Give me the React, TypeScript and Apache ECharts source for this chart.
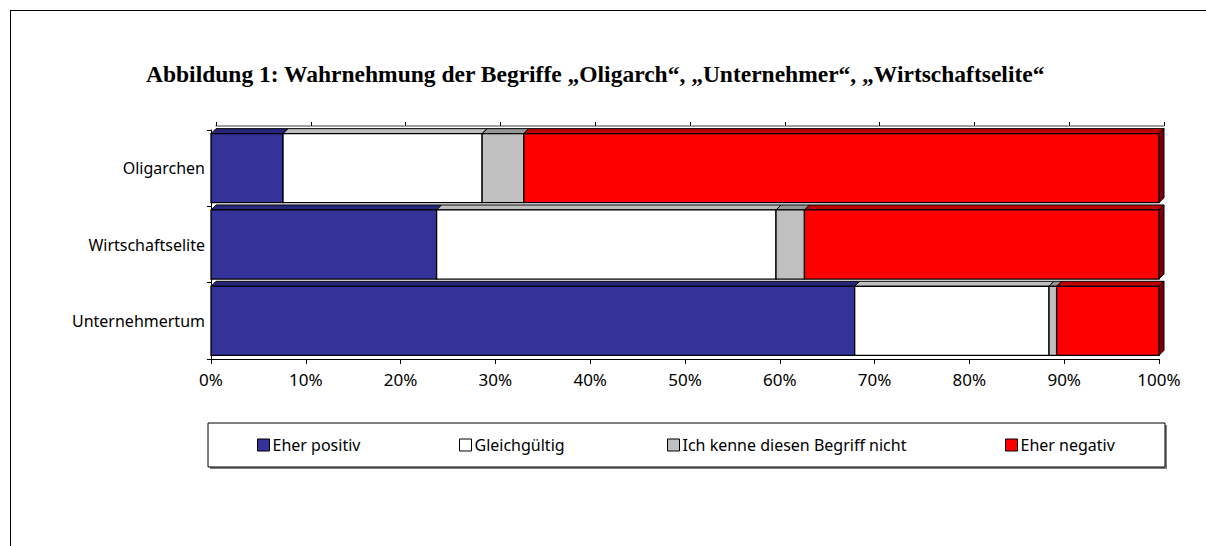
import React, { useEffect, useRef } from "react";
import * as echarts from "echarts";

const titleText = "Abbildung 1: Wahrnehmung der Begriffe „Oligarch“, „Unternehmer“, „Wirtschaftselite“";
// bottom-to-top order of the category axis
const categories = ["Unternehmertum", "Wirtschaftselite", "Oligarchen"];
const seriesNames = ["Eher positiv", "Gleichgültig", "Ich kenne diesen Begriff nicht", "Eher negativ"];
const eherPositiv = [67.9, 23.8, 7.6];
const gleichgueltig = [20.5, 35.8, 21.0];
const kenneNicht = [0.8, 3.0, 4.4];
const eherNegativ = [10.8, 37.4, 67.0];

const frontColors = ["#333399", "#FFFFFF", "#C0C0C0", "#FF0000"];
const topColors = ["#26267A", "#BEBEBE", "#969696", "#C00000"];
const sideColor = "#800000";

export default function App() {
  const ref = useRef<HTMLDivElement>(null);
  useEffect(() => {
    document.body.style.margin = "0";
    document.body.style.overflow = "hidden";
    const chart = echarts.init(ref.current!, null, { renderer: "svg" });
    const values = [eherPositiv, gleichgueltig, kenneNicht, eherNegativ];
    const cum = categories.map(() => 0);
    const segData = values.map((arr) =>
      arr.map((v, i) => {
        const s = cum[i];
        cum[i] += v;
        return [i, s, cum[i]];
      })
    );
    const depth = 5;
    const makeRender = (si: number) => (params: any, api: any) => {
      const cat = api.value(0);
      const p0 = api.coord([api.value(1), cat]);
      const p1 = api.coord([api.value(2), cat]);
      const band = api.size([0, 1])[1];
      const h = band * 0.905;
      const x0 = p0[0];
      const x1 = p1[0];
      const yT = p0[1] - h / 2;
      const yB = p0[1] + h / 2;
      const children: any[] = [
        {
          type: "polygon",
          shape: { points: [[x0, yT], [x1, yT], [x1 + depth, yT - depth], [x0 + depth, yT - depth]] },
          style: { fill: topColors[si], stroke: "#000", lineWidth: 1 },
        },
        {
          type: "rect",
          shape: { x: x0, y: yT, width: x1 - x0, height: yB - yT },
          style: { fill: frontColors[si], stroke: "#000", lineWidth: 1.3 },
        },
      ];
      if (si === values.length - 1) {
        children.push({
          type: "polygon",
          shape: { points: [[x1, yT], [x1 + depth, yT - depth], [x1 + depth, yB - depth], [x1, yB]] },
          style: { fill: sideColor, stroke: "#000", lineWidth: 1 },
        });
      }
      return { type: "group", children };
    };

    const legendLefts = [257, 459, 667, 1005];
    const font = "'Noto Sans', sans-serif";

    chart.setOption({
      animation: false,
      title: {
        text: titleText,
        left: 141,
        top: 57,
        textStyle: { fontFamily: "'Liberation Serif', serif", fontWeight: "bold", fontSize: 23.5, color: "#000" },
      },
      grid: [
        { left: 211, right: 47, top: 130, height: 229 },
        { left: 216, right: 42, top: 126, height: 1 },
      ],
      xAxis: [
        {
          gridIndex: 0,
          type: "value",
          min: 0,
          max: 100,
          interval: 10,
          axisLine: { show: true, lineStyle: { color: "#000", width: 1 } },
          axisTick: { show: true, length: 5, lineStyle: { color: "#000" } },
          axisLabel: { formatter: "{value}%", fontFamily: font, fontSize: 17, color: "#000", margin: 12 },
          splitLine: { show: false },
        },
        {
          gridIndex: 1,
          type: "value",
          position: "top",
          min: 0,
          max: 100,
          interval: 10,
          axisLine: { show: true, lineStyle: { color: "#808080", width: 1.5 } },
          axisTick: { show: true, length: 4, lineStyle: { color: "#000" } },
          axisLabel: { show: false },
          splitLine: { show: false },
        },
      ],
      yAxis: [
        {
          gridIndex: 0,
          type: "category",
          data: categories,
          axisLine: { show: true, lineStyle: { color: "#000", width: 1 } },
          axisTick: { show: true, length: 4, lineStyle: { color: "#000" } },
          axisLabel: { fontFamily: font, fontSize: 16, color: "#000", margin: 6 },
        },
        {
          gridIndex: 1,
          type: "category",
          data: ["a"],
          show: false,
        },
      ],
      legend: seriesNames.map((n, i) => ({
        data: [n],
        left: legendLefts[i],
        top: 437,
        icon: "rect",
        itemWidth: 12,
        itemHeight: 12,
        padding: 0,
        itemStyle: { borderColor: "#000", borderWidth: 1 },
        textStyle: { fontFamily: font, fontSize: 16, color: "#000", padding: [0, 0, 0, -2] },
      })),
      graphic: [
        {
          type: "rect",
          shape: { x: 210, y: 425, width: 957, height: 44 },
          style: { fill: "#808080", stroke: "none" },
          z: -5,
          silent: true,
        },
        {
          type: "rect",
          shape: { x: 208, y: 423, width: 957, height: 44 },
          style: { fill: "#FFFFFF", stroke: "#000", lineWidth: 1 },
          z: -4,
          silent: true,
        },
      ],
      series: seriesNames.map((n, si) => ({
        name: n,
        type: "custom",
        xAxisIndex: 0,
        yAxisIndex: 0,
        renderItem: makeRender(si),
        encode: { x: [1, 2], y: 0 },
        itemStyle: { color: frontColors[si] },
        data: segData[si],
      })),
    });
    return () => chart.dispose();
  }, []);
  return (
    <div style={{ position: "relative", width: 1206, height: 546, overflow: "hidden", background: "#fff" }}>
      <div
        style={{
          position: "absolute",
          left: 10,
          top: 10,
          width: 1400,
          height: 800,
          borderLeft: "1.5px solid #000",
          borderTop: "1.5px solid #000",
        }}
      />
      <div ref={ref} style={{ position: "absolute", left: 0, top: 0, width: 1206, height: 546 }} />
    </div>
  );
}
